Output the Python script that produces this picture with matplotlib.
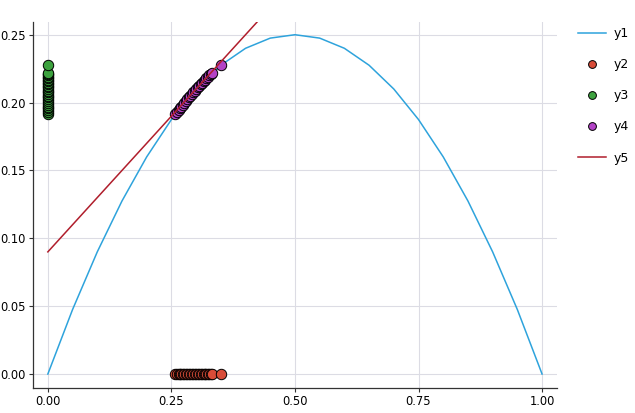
import matplotlib.pyplot as plt

# curve y1 sampled along x
x1 = [0.0, 0.05, 0.10, 0.15, 0.20, 0.25, 0.30, 0.35, 0.40, 0.45, 0.50,
      0.55, 0.60, 0.65, 0.70, 0.75, 0.80, 0.85, 0.90, 0.95, 1.0]
y1 = [0.0, 0.0475, 0.09, 0.1275, 0.16, 0.1875, 0.21, 0.2275, 0.24, 0.2475, 0.25,
      0.2475, 0.24, 0.2275, 0.21, 0.1875, 0.16, 0.1275, 0.09, 0.0475, 0.0]

# sample points
xs = [0.258, 0.262, 0.265, 0.268, 0.270, 0.273, 0.276, 0.279, 0.282, 0.285,
      0.288, 0.291, 0.294, 0.297, 0.300, 0.303, 0.306, 0.309, 0.312, 0.315,
      0.318, 0.321, 0.324, 0.327, 0.330, 0.333, 0.350]
ys = [0.1914, 0.1934, 0.1948, 0.1962, 0.1971, 0.1985, 0.1998, 0.2012, 0.2025, 0.2038,
      0.2051, 0.2063, 0.2076, 0.2088, 0.2100, 0.2112, 0.2124, 0.2135, 0.2147, 0.2158,
      0.2169, 0.2180, 0.2190, 0.2201, 0.2211, 0.2221, 0.2275]
y2 = [0.0] * len(xs)
x3 = [0.0] * len(xs)

# tangent line
x5 = [0.0, 1.0]
y5 = [0.09, 0.49]

c1, c2, c3, c4, c5 = '#2EA3DC', '#D84C38', '#3DA23F', '#B343C6', '#B01E2C'

fig = plt.figure(figsize=(6.35, 4.13), dpi=100)
ax = fig.add_axes([0.052, 0.0605, 0.825, 0.886])

ax.plot(x1, y1, color=c1, lw=1.1, label='y1', zorder=3)
ax.plot(xs, y2, 'o', color=c2, mec='black', mew=0.7, ms=7.5, label='y2', zorder=4)
ax.plot(x3, ys, 'o', color=c3, mec='black', mew=0.7, ms=7.5, label='y3', zorder=4)
ax.plot(xs, ys, 'o', color=c4, mec='black', mew=0.7, ms=7.5, label='y4', zorder=4)
ax.plot(x5, y5, color=c5, lw=1.1, label='y5', zorder=5)

ax.set_xlim(-0.03, 1.03)
ax.set_ylim(-0.0103, 0.2593)
ax.set_xticks([0.0, 0.25, 0.5, 0.75, 1.0])
ax.set_xticklabels(['0.00', '0.25', '0.50', '0.75', '1.00'])
ax.set_yticks([0.0, 0.05, 0.10, 0.15, 0.20, 0.25])
ax.set_yticklabels(['0.00', '0.05', '0.10', '0.15', '0.20', '0.25'])

ax.grid(True, color='#dcdce4', lw=0.8)
ax.set_axisbelow(True)
for s in ['top', 'right']:
    ax.spines[s].set_visible(False)
for s in ['left', 'bottom']:
    ax.spines[s].set_color('#333333')
    ax.spines[s].set_linewidth(0.9)
ax.tick_params(direction='out', length=3, width=0.8, colors='#333333', labelsize=8.3,
               labelcolor='black', pad=2)

leg = ax.legend(loc='upper left', bbox_to_anchor=(1.03, 1.0), frameon=False, borderaxespad=0,
                fontsize=9, handlelength=2.3, handletextpad=0.6, labelspacing=1.45,
                markerscale=0.75)

fig.savefig('out.png', dpi=100)
